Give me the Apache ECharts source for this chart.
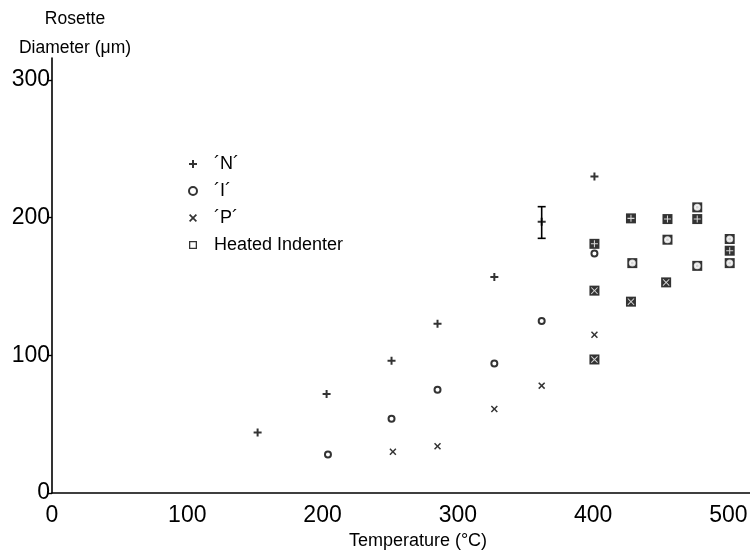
<!DOCTYPE html>
<html>
<head>
<meta charset="utf-8">
<script src="https://cdn.jsdelivr.net/npm/echarts@6/dist/echarts.min.js"></script>
<style>html,body{margin:0;padding:0;background:#fff}#c{width:750px;height:555px}</style>
</head>
<body>
<div id="c"></div>
<script>
// Data (Temperature °C, Rosette diameter µm)
const xTicks = [0, 100, 200, 300, 400, 500];
const yTicks = [0, 100, 200, 300];
const nData = [[152, 44], [203, 72], [251, 96], [285, 123], [327, 157], [362, 197], [401, 230]];
const iData = [[204, 28], [251, 54], [285, 75], [327, 94], [362, 125], [401, 174]];
const pData = [[252, 30], [285, 34], [327, 61], [362, 78], [401, 115]];
const nErrorBar = [[362, 185, 208]];
const heatedN = [[401, 181], [428, 199.5], [455, 199], [477, 199], [501, 176]];
const heatedI = [[429, 167], [455, 184], [477, 207.5], [501, 184.5], [477, 165], [501, 167]];
const heatedP = [[401, 147], [428, 139], [454, 153], [401, 97]];

const FONT = '"Liberation Sans", Arial, sans-serif';
const PLUS = 'path://M3,0H5V3H8V5H5V8H3V5H0V3H3Z';
const CROSS = 'path://M0,1.2L1.2,0L4,2.8L6.8,0L8,1.2L5.2,4L8,6.8L6.8,8L4,5.2L1.2,8L0,6.8L2.8,4Z';
const THINPLUS = 'path://M3.4,0H4.6V3.4H8V4.6H4.6V8H3.4V4.6H0V3.4H3.4Z';
const THINCROSS = 'path://M0,0.8L0.8,0L4,3.2L7.2,0L8,0.8L4.8,4L8,7.2L7.2,8L4,4.8L0.8,8L0,7.2L3.2,4Z';
const HOLLOWSQ = 'path://M0,0H10V10H0ZM1.6,1.6V8.4H8.4V1.6Z';

const chart = echarts.init(document.getElementById('c'), null, {renderer: 'canvas'});
const heatedAll = heatedN.concat(heatedI, heatedP);

chart.setOption({
  animation: false,
  backgroundColor: '#fff',
  grid: {left: 52, right: 0, top: 58, bottom: 62, containLabel: false, outerBoundsMode: 'none'},
  legend: {
    orient: 'vertical', left: 183, top: 150, itemWidth: 8, itemHeight: 8, itemGap: 9,
    selectedMode: false,
    textStyle: {fontFamily: FONT, fontSize: 18, color: '#000', padding: [0, 0, 0, 12]},
    data: [
      {name: '´N´', icon: PLUS, itemStyle: {color: '#000'}},
      {name: '´I´', icon: 'emptyCircle', itemStyle: {color: '#000', borderColor: '#000', borderWidth: 1.5}},
      {name: '´P´', icon: CROSS, itemStyle: {color: '#000'}},
      {name: 'Heated Indenter', icon: HOLLOWSQ, itemStyle: {color: '#000'}}
    ]
  },
  xAxis: {
    type: 'value', min: 0, max: 516, interval: 100,
    name: 'Temperature (°C)', nameLocation: 'middle', nameGap: 39,
    nameTextStyle: {fontFamily: FONT, fontSize: 18, color: '#000', padding: [0, 0, 0, 34]},
    axisLine: {lineStyle: {color: '#000', width: 1.6}},
    axisTick: {show: false},
    splitLine: {show: false},
    axisLabel: {
      fontFamily: FONT, fontSize: 23, color: '#000', margin: 11, showMaxLabel: false,
      formatter: v => (xTicks.indexOf(v) >= 0 ? String(v) : '')
    }
  },
  yAxis: {
    type: 'value', min: 0, max: 316, interval: 100,
    name: 'Rosette\nDiameter (μm)', nameLocation: 'end', nameGap: -5,
    nameTextStyle: {fontFamily: FONT, fontSize: 17.5, color: '#000', lineHeight: 29, align: 'center', padding: [0, 0, 0, 46]},
    axisLine: {show: true, lineStyle: {color: '#000', width: 1.6}},
    axisTick: {show: true, length: 5, lineStyle: {color: '#000', width: 1.4}},
    splitLine: {show: false},
    axisLabel: {
      fontFamily: FONT, fontSize: 23, color: '#000', margin: 2, showMaxLabel: false,
      formatter: v => (yTicks.indexOf(v) >= 0 ? String(v) : '')
    }
  },
  series: [
    {name: '´N´', type: 'scatter', data: nData, symbol: PLUS, symbolSize: 8, itemStyle: {color: '#000'}},
    {name: '´I´', type: 'scatter', data: iData, symbol: 'emptyCircle', symbolSize: 6,
     itemStyle: {color: '#000', borderColor: '#000', borderWidth: 1.6}},
    {name: '´P´', type: 'scatter', data: pData, symbol: CROSS, symbolSize: 7, itemStyle: {color: '#000'}},
    {name: 'Heated Indenter', type: 'scatter', data: heatedAll, symbol: 'rect', symbolSize: 10, itemStyle: {color: '#000'}},
    {name: 'hN', type: 'scatter', data: heatedN, symbol: THINPLUS, symbolSize: 7, itemStyle: {color: '#fff'}, z: 3},
    {name: 'hI', type: 'scatter', data: heatedI, symbol: 'emptyCircle', symbolSize: 5,
     itemStyle: {color: '#fff', borderColor: '#fff', borderWidth: 1.2}, z: 3},
    {name: 'hP', type: 'scatter', data: heatedP, symbol: THINCROSS, symbolSize: 7, itemStyle: {color: '#fff'}, z: 3},
    {
      name: 'errN', type: 'custom', data: nErrorBar, z: 3,
      renderItem: function (params, api) {
        const x = api.value(0);
        const lo = api.coord([x, api.value(1)]);
        const hi = api.coord([x, api.value(2)]);
        const w = 4;
        const st = {stroke: '#000', lineWidth: 1.6};
        return {
          type: 'group', children: [
            {type: 'line', shape: {x1: lo[0], y1: lo[1], x2: hi[0], y2: hi[1]}, style: st},
            {type: 'line', shape: {x1: lo[0] - w, y1: lo[1], x2: lo[0] + w, y2: lo[1]}, style: st},
            {type: 'line', shape: {x1: hi[0] - w, y1: hi[1], x2: hi[0] + w, y2: hi[1]}, style: st}
          ]
        };
      }
    }
  ]
});
</script>
</body>
</html>
